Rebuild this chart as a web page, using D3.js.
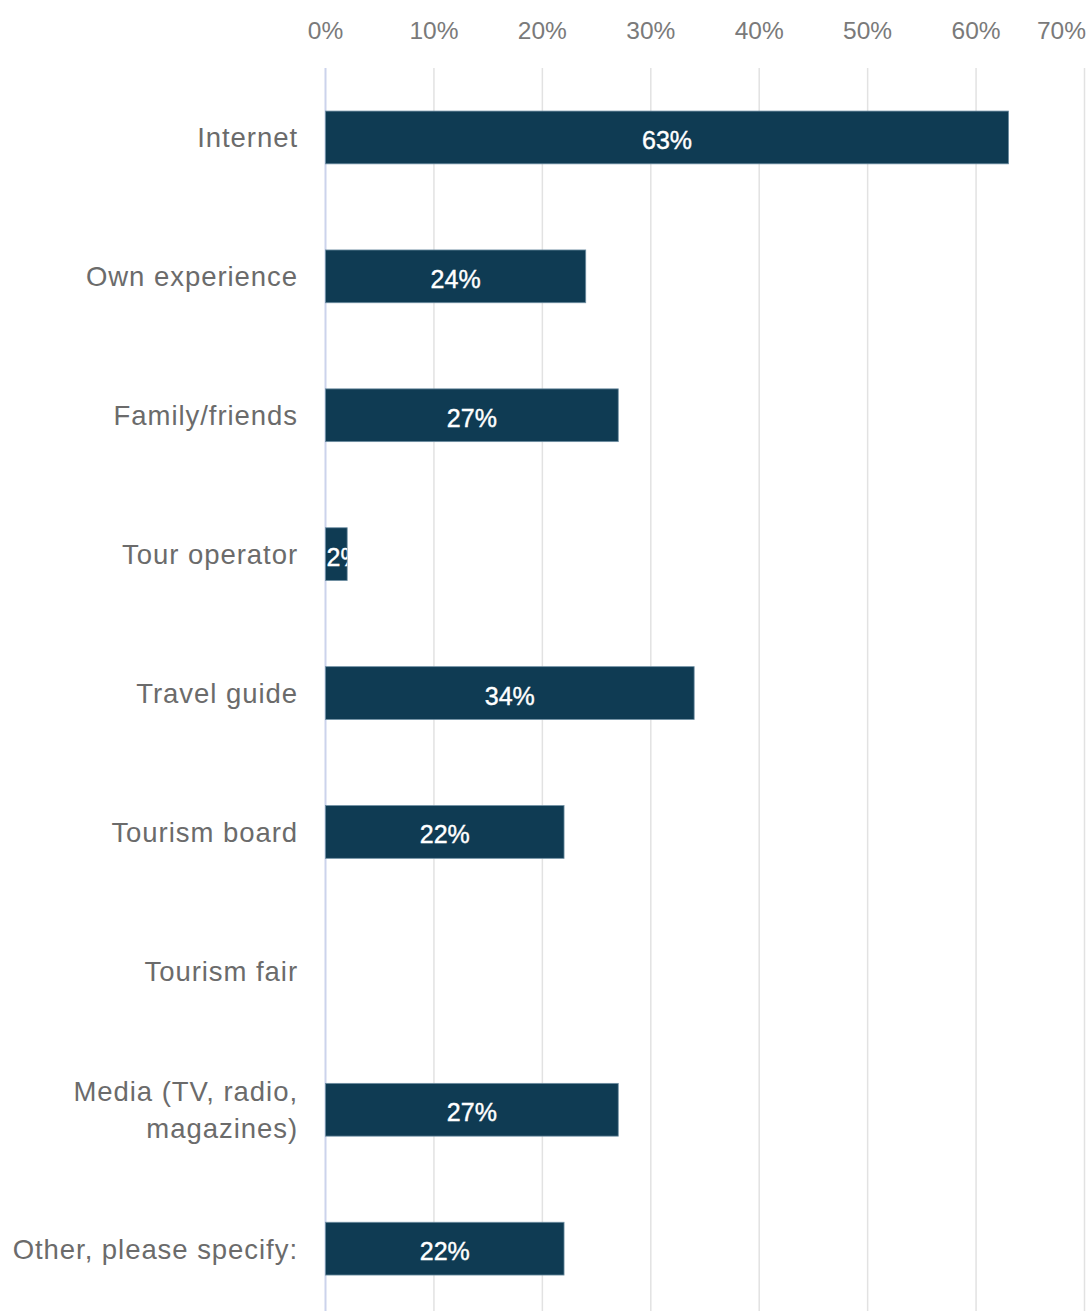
<!DOCTYPE html>
<html>
<head>
<meta charset="utf-8">
<script src="https://cdn.jsdelivr.net/npm/d3@7"></script>
<style>
  html, body { margin: 0; padding: 0; background: #fff; }
  svg { display: block; font-family: "Liberation Sans", Arial, sans-serif; }
</style>
</head>
<body>
<svg id="chart" width="1087" height="1311"></svg>
<script>
// Information sources used when planning a trip
const categories = [
  "Internet",
  "Own experience",
  "Family/friends",
  "Tour operator",
  "Travel guide",
  "Tourism board",
  "Tourism fair",
  "Media (TV, radio,\nmagazines)",
  "Other, please specify:"
];
const shares = [0.63, 0.24, 0.27, 0.02, 0.34, 0.22, 0, 0.27, 0.22];
const tickValues = [0, 0.1, 0.2, 0.3, 0.4, 0.5, 0.6, 0.7];

const W = 1087, H = 1311;
const svg = d3.select("#chart");

const x = d3.scaleLinear().domain([0, 0.7]).range([325.5, 1084.5]);
const y = d3.scaleBand()
  .domain(categories)
  .range([68, 68 + 9 * 138.9])
  .paddingInner(0.62)
  .paddingOuter(0.31);

const pct = d3.format(".0%");
const data = categories.map((c, i) => ({ cat: c, v: shares[i] }));

// vertical gridlines
svg.append("g")
  .selectAll("line")
  .data(tickValues.slice(1))
  .join("line")
  .attr("x1", d => x(d)).attr("x2", d => x(d))
  .attr("y1", 68).attr("y2", H)
  .attr("stroke", "#e2e2e2")
  .attr("stroke-width", 1.5);

// baseline at zero
svg.append("line")
  .attr("x1", x(0)).attr("x2", x(0))
  .attr("y1", 68).attr("y2", H)
  .attr("stroke", "#ccd3ec")
  .attr("stroke-width", 2);

// top axis labels
const tickG = svg.append("g");
tickG.selectAll("text")
  .data(tickValues)
  .join("text")
  .attr("y", 39)
  .attr("text-anchor", "middle")
  .attr("fill", "#7a7a7a")
  .attr("font-size", 24.5)
  .text(d => pct(d))
  .each(function (d) {
    const w = this.getComputedTextLength();
    const cx = Math.min(x(d), W - 1 - w / 2);
    d3.select(this).attr("x", cx);
  });

// bars
const defs = svg.append("defs");
const barG = svg.append("g");
data.forEach((d, i) => {
  if (d.v <= 0) return;
  const x0 = x(0), x1 = x(d.v);
  const yb = y(d.cat), h = y.bandwidth();
  barG.append("rect")
    .attr("x", x0).attr("y", yb)
    .attr("width", x1 - x0).attr("height", h)
    .attr("fill", "#0f3b53")
    .attr("stroke", "#6f8fa3")
    .attr("stroke-width", 0.8);

  defs.append("clipPath").attr("id", "clip" + i)
    .append("rect")
    .attr("x", x0).attr("y", yb)
    .attr("width", x1 - x0).attr("height", h);

  const t = barG.append("text")
    .attr("clip-path", `url(#clip${i})`)
    .attr("y", yb + h / 2)
    .attr("dy", "0.46em")
    .attr("fill", "#ffffff")
    .attr("font-size", 25)
    .attr("stroke", "#ffffff")
    .attr("stroke-width", 0.4)
    .text(pct(d.v));
  const tw = t.node().getComputedTextLength();
  if (tw + 4 > x1 - x0) {
    t.attr("x", x0 + 1).attr("text-anchor", "start");
  } else {
    t.attr("x", (x0 + x1) / 2).attr("text-anchor", "middle");
  }
});

// category labels
const catG = svg.append("g");
data.forEach(d => {
  const lines = d.cat.split("\n");
  const cy = y(d.cat) + y.bandwidth() / 2;
  const lh = 37;
  const txt = catG.append("text")
    .attr("text-anchor", "end")
    .attr("fill", "#6b6b6b")
    .attr("font-size", 27.5)
    .attr("letter-spacing", 0.95);
  lines.forEach((ln, k) => {
    txt.append("tspan")
      .attr("x", 298)
      .attr("y", cy + (k - (lines.length - 1) / 2) * lh)
      .attr("dy", "0.36em")
      .text(ln);
  });
});
</script>
</body>
</html>
